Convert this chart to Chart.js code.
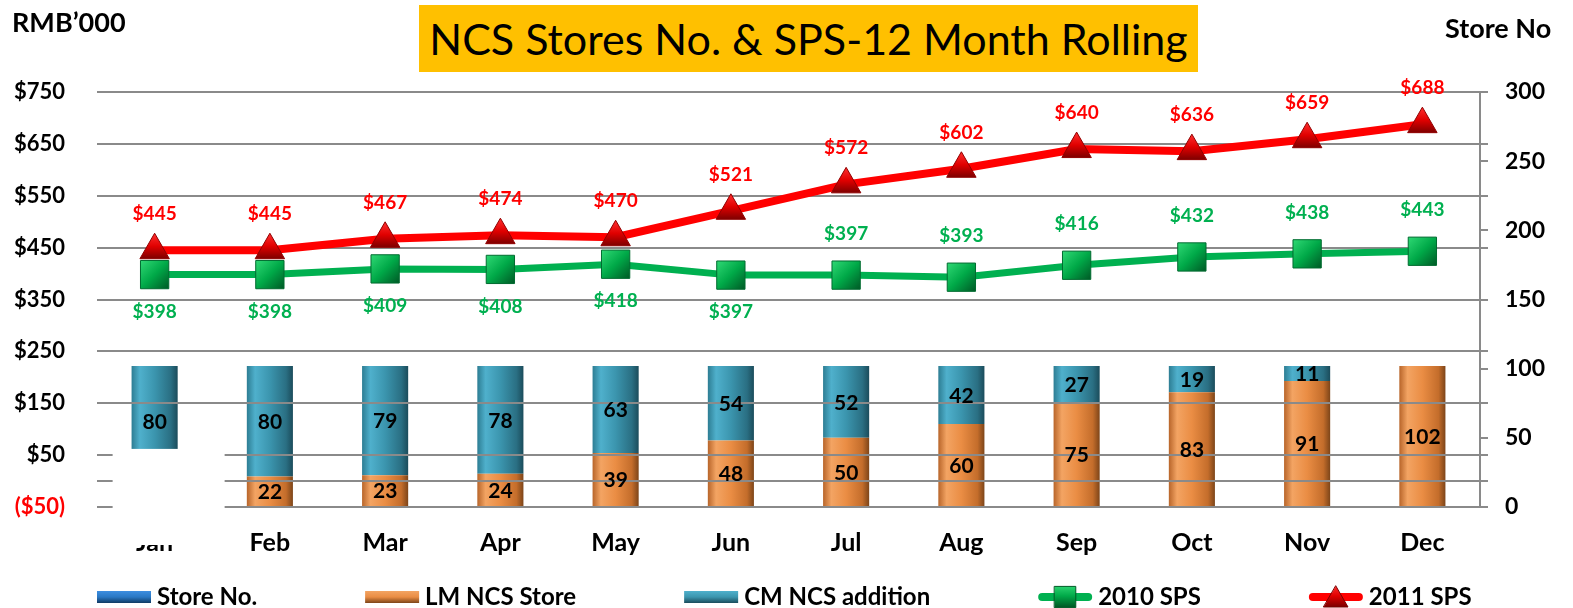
<!DOCTYPE html>
<html>
<head>
<meta charset="utf-8">
<script src="https://cdn.jsdelivr.net/npm/chart.js@4.4.1/dist/chart.umd.min.js"></script>
<style>
  html, body { margin: 0; padding: 0; background: #fff; }
  #wrap { position: relative; width: 1573px; height: 608px; }
  #title {
    position: absolute; left: 419px; top: 5px; width: 779px; height: 67px;
    background: #ffc000; color: #000; font: 43px Lato; line-height: 67px; text-align: center;
  }
  .unit { position: absolute; font: bold 27px Lato; line-height: 27px; color: #000; }
</style>
</head>
<body>
<div id="wrap">
  <canvas id="chart" width="1573" height="608"></canvas>
  <div id="title">NCS Stores No. &amp; SPS-12 Month Rolling</div>
  <div class="unit" style="left:12px; top:8px">RMB’000</div>
  <div class="unit" style="left:1445px; top:14px">Store No</div>
</div>
<script>
// ── data ──
const months      = ['Jan', 'Feb', 'Mar', 'Apr', 'May', 'Jun', 'Jul', 'Aug', 'Sep', 'Oct', 'Nov', 'Dec'];
const storeNo     = [null, null, null, null, null, null, null, null, null, null, null, null]; // legend only
const lmStores    = [22, 22, 23, 24, 39, 48, 50, 60, 75, 83, 91, 102];
const cmAdditions = [80, 80, 79, 78, 63, 54, 52, 42, 27, 19, 11, 0];
const sps2010     = [398, 398, 409, 408, 418, 397, 397, 393, 416, 432, 438, 443];
const sps2011     = [445, 445, 467, 474, 470, 521, 572, 602, 640, 636, 659, 688];

const leftMin = -50, leftMax = 750, leftStep = 100;   // RMB'000
const rightMin = 0, rightMax = 300, rightStep = 50;   // store count

const FONT = 'Lato';
const GRID = '#8a8a8a';
const BAR_PCT = 0.4;

const BLUE   = [[0, '#1d5fa3'], [0.2, '#3d8ee0'], [0.5, '#2a78c4'], [0.85, '#1a5590'], [1, '#103a63']];
const ORANGE = [[0, '#b8652a'], [0.18, '#f3a463'], [0.5, '#ea8d44'], [0.85, '#c46d2b'], [1, '#7d4519']];
const TEAL   = [[0, '#2d7d93'], [0.18, '#4fb0cc'], [0.5, '#3b95ae'], [0.85, '#2a6f83'], [1, '#1b4c5b']];

const ok = (...n) => n.every(Number.isFinite);

function barFill(stops) {
  return c => {
    const chart = c.chart, x = chart.scales && chart.scales.x;
    if (c.type !== 'data' || !x) return stops[2][1];
    const cx   = x.getPixelForValue(c.dataIndex);
    const half = x.width / months.length * BAR_PCT / 2;
    if (!ok(cx, half) || half <= 0) return stops[2][1];
    const g = chart.ctx.createLinearGradient(cx - half, 0, cx + half, 0);
    stops.forEach(([o, col]) => g.addColorStop(o, col));
    return g;
  };
}

function pointFill(cols, up, down, diag) {
  return c => {
    if (c.type !== 'data' || !c.parsed) return cols[1];
    const chart = c.chart;
    if (!chart.scales || !chart.scales.x || !chart.scales.y) return cols[1];
    const px = chart.scales.x.getPixelForValue(c.dataIndex);
    const py = chart.scales.y.getPixelForValue(c.parsed.y);
    if (!ok(px, py)) return cols[1];
    const g = diag
      ? chart.ctx.createLinearGradient(px - up, py - up, px + down, py + down)
      : chart.ctx.createLinearGradient(0, py - up, 0, py + down);
    g.addColorStop(0, cols[0]);
    g.addColorStop(0.5, cols[1]);
    g.addColorStop(1, cols[2]);
    return g;
  };
}

const RED_PT   = ['#ff3030', '#e00000', '#7a0000'];
const GREEN_PT = ['#2fd874', '#00a948', '#005a26'];

// label offsets relative to the point (px)
const labelStyle = {
  3: { color: '#00b050', dy: j => (j < 6 ? 37 : -41) },
  4: { color: '#ff0000', dy: () => -36 },
};

const overlay = {
  id: 'overlay',
  // gridlines sit above the bars but below the lines
  beforeDatasetDraw(chart, args) {
    if (args.index !== 3) return;
    const { ctx, chartArea } = chart;
    const y = chart.scales.y;
    const vals = y.ticks.map(t => t.value).concat([0]);
    ctx.save();
    ctx.strokeStyle = GRID;
    ctx.lineWidth = 2;
    vals.forEach(v => {
      const py = Math.round(y.getPixelForValue(v));
      ctx.beginPath();
      ctx.moveTo(chartArea.left, py);
      ctx.lineTo(chartArea.right + 8, py);
      ctx.stroke();
    });
    ctx.restore();
  },
  afterDatasetsDraw(chart) {
    const ctx = chart.ctx;
    ctx.save();
    ctx.textAlign = 'center';
    ctx.textBaseline = 'middle';
    chart.data.datasets.forEach((ds, i) => {
      const meta = chart.getDatasetMeta(i);
      meta.data.forEach((el, j) => {
        const v = ds.data[j];
        if (v == null || v === 0) return;
        if (meta.type === 'bar') {
          ctx.font = `bold 21px ${FONT}`;
          ctx.fillStyle = '#000';
          ctx.fillText(String(v), el.x, (el.y + el.base) / 2 + 1);
        } else {
          const st = labelStyle[i];
          ctx.font = `bold 19px ${FONT}`;
          ctx.fillStyle = st.color;
          ctx.fillText('$' + v, el.x, el.y + st.dy(j));
        }
      });
    });
    ctx.restore();
  },
  afterDraw(chart) {
    const { ctx, chartArea, scales } = chart;
    // white patch over the lower part of the Jan column
    const cx = scales.x.getPixelForValue(0);
    const top = scales.y1.getPixelForValue(42);
    ctx.save();
    ctx.fillStyle = '#fff';
    ctx.fillRect(cx - 42, top, 112, chartArea.bottom + 38 - top);

    // legend
    const cy = 597;
    let x = chartArea.left;
    ctx.font = `bold 24px ${FONT}`;
    ctx.textBaseline = 'middle';
    ctx.textAlign = 'left';
    chart.data.datasets.forEach(ds => {
      const w = 54;
      if (ds.type === 'bar') {
        const g = ctx.createLinearGradient(0, cy - 6, 0, cy + 6);
        g.addColorStop(0, ds.legendStops[1][1]);
        g.addColorStop(0.5, ds.legendStops[2][1]);
        g.addColorStop(1, ds.legendStops[4][1]);
        ctx.fillStyle = g;
        ctx.fillRect(x, cy - 6, w, 12);
      } else {
        ctx.strokeStyle = ds.borderColor;
        ctx.lineWidth = 8;
        ctx.lineCap = 'round';
        ctx.beginPath();
        ctx.moveTo(x + 4, cy);
        ctx.lineTo(x + w - 4, cy);
        ctx.stroke();
        const g = ctx.createLinearGradient(0, cy - 12, 0, cy + 10);
        g.addColorStop(0, ds.legendPoint[0]);
        g.addColorStop(0.5, ds.legendPoint[1]);
        g.addColorStop(1, ds.legendPoint[2]);
        ctx.fillStyle = g;
        ctx.strokeStyle = ds.legendPoint[2];
        ctx.lineWidth = 1;
        Chart.helpers.drawPoint(ctx, {
          pointStyle: ds.pointStyle,
          radius: ds.pointStyle === 'rect' ? 15 : 14,
          borderWidth: 1,
          rotation: 0,
        }, x + w / 2, cy + (ds.pointStyle === 'triangle' ? 3 : 0));
      }
      ctx.fillStyle = '#000';
      ctx.fillText(ds.label, x + w + 6, cy);
      x += w + 6 + ctx.measureText(ds.label).width + 108;
    });
    ctx.restore();
  },
};

new Chart(document.getElementById('chart'), {
  data: {
    labels: months,
    datasets: [
      {
        type: 'bar', label: 'Store No.', data: storeNo, yAxisID: 'y1', stack: 's', order: 2,
        backgroundColor: barFill(BLUE), legendStops: BLUE,
        barPercentage: BAR_PCT, categoryPercentage: 1,
      },
      {
        type: 'bar', label: 'LM NCS Store', data: lmStores, yAxisID: 'y1', stack: 's', order: 2,
        backgroundColor: barFill(ORANGE), legendStops: ORANGE,
        barPercentage: BAR_PCT, categoryPercentage: 1,
      },
      {
        type: 'bar', label: 'CM NCS addition', data: cmAdditions, yAxisID: 'y1', stack: 's', order: 2,
        backgroundColor: barFill(TEAL), legendStops: TEAL,
        barPercentage: BAR_PCT, categoryPercentage: 1,
      },
      {
        type: 'line', label: '2010 SPS', data: sps2010, yAxisID: 'y', order: 1,
        borderColor: '#00b050', borderWidth: 7, tension: 0,
        pointStyle: 'rect', pointRadius: 20, pointBorderWidth: 1,
        pointBackgroundColor: pointFill(GREEN_PT, 14, 14, true), pointBorderColor: '#006b30',
        legendPoint: GREEN_PT,
      },
      {
        type: 'line', label: '2011 SPS', data: sps2011, yAxisID: 'y', order: 0,
        borderColor: '#ff0000', borderWidth: 8, tension: 0,
        pointStyle: 'triangle', pointRadius: 17, pointBorderWidth: 1,
        pointBackgroundColor: pointFill(RED_PT, 17, 9, false), pointBorderColor: '#900000',
        legendPoint: RED_PT,
      },
    ],
  },
  options: {
    responsive: false,
    animation: false,
    events: [],
    devicePixelRatio: 1,
    layout: { padding: { top: 92, left: 0, right: 0, bottom: 0 } },
    plugins: {
      legend: { display: false },
      tooltip: { enabled: false },
      title: { display: false },
    },
    scales: {
      x: {
        stacked: true,
        grid: { display: false, drawTicks: false },
        border: { display: false },
        ticks: { color: '#000', font: { family: FONT, size: 25, weight: 'bold' }, padding: 21 },
        afterFit: s => { s.height = 101; },
      },
      y: {
        position: 'left',
        min: leftMin, max: leftMax,
        grid: { display: false, drawTicks: false },
        border: { display: false },
        ticks: {
          stepSize: leftStep,
          padding: 32,
          font: { family: FONT, size: 22, weight: 'bold' },
          color: c => (c.tick && c.tick.value < 0 ? '#ff0000' : '#000'),
          callback: v => (v < 0 ? '($' + (-v) + ')' : '$' + v),
        },
        afterFit: s => { s.width = 97; },
      },
      y1: {
        position: 'right',
        stacked: true,
        min: rightMin, max: rightMax,
        grid: { drawOnChartArea: false, drawTicks: true, tickLength: 8, color: GRID, lineWidth: 2 },
        border: { display: true, color: GRID, width: 2 },
        ticks: {
          stepSize: rightStep,
          padding: 17,
          color: '#000',
          font: { family: FONT, size: 23, weight: 'bold' },
        },
        afterFit: s => { s.width = 93; },
      },
    },
  },
  plugins: [overlay],
});
</script>
</body>
</html>
